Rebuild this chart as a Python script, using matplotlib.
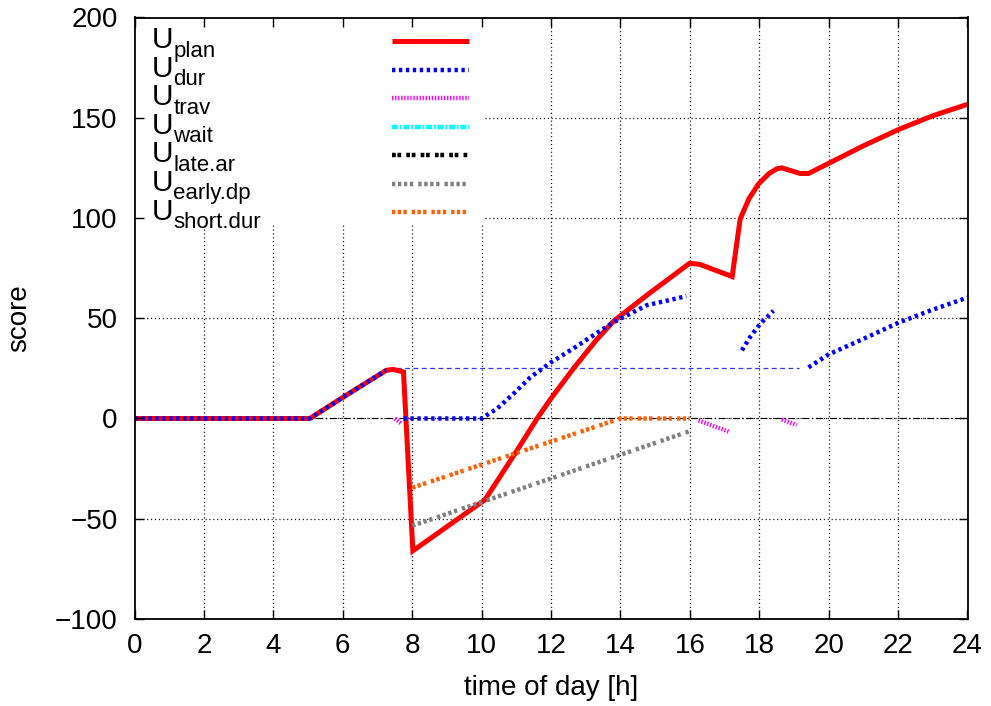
import numpy as np
import matplotlib
matplotlib.use("Agg")
import matplotlib.pyplot as plt
from matplotlib.lines import Line2D
from matplotlib.patches import Rectangle

plt.rcParams['font.family'] = ['Liberation Sans', 'DejaVu Sans']
plt.rcParams['lines.scale_dashes'] = False

# ---------------- data ----------------
plan_t = [0, 5.05, 6.1, 7.25, 7.45, 7.75, 8.02, 10.1, 11.0, 11.6, 12.0, 12.65, 13.3, 13.8,
          14.8, 16.0, 16.3, 17.22, 17.45, 17.7, 17.98, 18.27, 18.5, 18.65, 19.18, 19.42,
          20.04, 21.0, 22.05, 23.0, 24.0]
plan_v = [0, 0, 11.6, 24, 24.5, 23.2, -66, -40.5, -16.5, 0, 10, 25, 39, 48.5,
          62, 77.5, 76.8, 70.8, 99.5, 109.5, 117, 122, 124.5, 125, 122.2, 122.2,
          127.6, 136, 144.4, 151, 156.7]

dur_t = [0, 5.05, 6.1, 7.25, np.nan,
         7.75, 10.0, 10.45, 10.9, 11.4, 12.0, 12.65, 13.0, 13.8, 14.76, 15.9, np.nan,
         17.5, 17.74, 18.03, 18.41, np.nan,
         19.42, 20.0, 21.0, 22.0, 23.0, 24.0]
dur_v = [0, 0, 11.6, 24, np.nan,
         0, 0, 5, 12, 20.5, 28, 35, 39, 48, 56.5, 61, np.nan,
         34, 40.7, 47.3, 53.7, np.nan,
         25.5, 32, 39.7, 47.7, 54.3, 60.3]

dur_ref_t = [7.3, 19.15]
dur_ref_v = [25, 25]

trav_t = [7.5, 7.7, np.nan, 16.25, 17.16, np.nan, 18.65, 19.08]
trav_v = [0, -2.7, np.nan, -1, -6.8, np.nan, -0.5, -3.3]

wait_t, wait_v = [], []
late_t, late_v = [], []

early_t = [8.0, 16.0]
early_v = [-53.5, -6.3]

short_t = [8.0, 14.0, 16.0]
short_v = [-34.5, 0, 0]

labels = ['plan', 'dur', 'trav', 'wait', 'late.ar', 'early.dp', 'short.dur']
xticks = list(range(0, 25, 2))
yticks = list(range(-100, 201, 50))

# ---------------- figure ----------------
W, H = 991, 706
fig = plt.figure(figsize=(W / 100, H / 100), dpi=100)
L, R, T, B = 134.5, 967.5, 17.5, 619
ax = fig.add_axes([L / W, 1 - B / H, (R - L) / W, (B - T) / H])
ax.set_xlim(0, 24)
ax.set_ylim(-100, 200)
ax.set_xticks(xticks)
ax.set_yticks(yticks)
ax.set_yticklabels([('\u2212' + str(-v)) if v < 0 else str(v) for v in yticks])
ax.tick_params(direction='in', length=6.5, width=1, top=True, right=True,
               labelsize=20)
ax.tick_params(axis='x', pad=10)
ax.tick_params(axis='y', pad=12)
for s in ax.spines.values():
    s.set_linewidth(1.3)
ax.set_axisbelow(False)

# grid (drawn manually so the legend box can cover it but not the ticks)
for xv in ax.get_xticks()[1:-1]:
    ax.axvline(xv, color='black', lw=0.9, dashes=(0.8, 2.0), zorder=0.3)
for yv in ax.get_yticks()[1:-1]:
    ax.axhline(yv, color='black', lw=0.9, dashes=(0.8, 2.0), zorder=0.3)

# zero axis
ax.axhline(0, color='black', lw=0.8, dashes=(5, 2, 1, 2), zorder=0.6)

lw = 3.2
lines = []
lines.append(ax.plot(plan_t, plan_v, color='#ff0000', lw=3.6, solid_capstyle='butt',
                     solid_joinstyle='miter', zorder=2)[0])
lines.append(ax.plot(dur_t, dur_v, color='#0000ff', lw=lw, dashes=(2.4, 2.6),
                     dash_capstyle='butt', zorder=2.1)[0])
ax.plot(dur_ref_t, dur_ref_v, color='#3333ff', lw=0.9, dashes=(3.5, 2.5), zorder=1.9)
lines.append(ax.plot(trav_t, trav_v, color='#ff00ff', lw=lw, dashes=(1.0, 1.2),
                     zorder=2.2)[0])
lines.append(ax.plot(wait_t, wait_v, color='#00ffff', lw=lw, dashes=(4.3, 1.3, 1.3, 1.3),
                     zorder=2.3)[0])
lines.append(ax.plot(late_t, late_v, color='#000000', lw=lw, dashes=(2.7, 1.2, 2.7, 3.7),
                     zorder=2.4)[0])
lines.append(ax.plot(early_t, early_v, color='#808080', lw=lw,
                     dashes=(2.4, 1.9, 2.4, 1.9, 2.4, 1.9, 2.4, 3.6), zorder=2.5)[0])
lines.append(ax.plot(short_t, short_v, color='#ff5f00', lw=lw,
                     dashes=(2.4, 1.7, 2.4, 1.7, 2.4, 3.6), zorder=2.6)[0])

# ---------------- legend (gnuplot style) ----------------
def fx(px):
    return px / W

def fy(py):
    return 1 - py / H

ax.add_patch(Rectangle((fx(136), fy(225)), fx(485) - fx(136), fy(18.5) - fy(225),
                       transform=fig.transFigure, facecolor='white', edgecolor='none',
                       zorder=0.8))
row0, dy = 41.0, 28.55
for i, (lab, ln) in enumerate(zip(labels, lines)):
    yl = row0 + i * dy
    fig.text(fx(152), fy(yl + 7.3), 'U', fontsize=21.5, ha='left', va='baseline')
    fig.text(fx(173.5), fy(yl + 15.7), lab, fontsize=16, ha='left', va='baseline')
    seg = Line2D([fx(391.7), fx(469)], [fy(yl), fy(yl)], transform=fig.transFigure,
                 color=ln.get_color(), lw=ln.get_linewidth(),
                 solid_capstyle='butt', dash_capstyle='butt')
    if ln.get_linestyle() not in ('-', 'solid'):
        seg.set_dashes(ln._unscaled_dash_pattern[1])
    fig.add_artist(seg)

fig.text(fx(551), fy(688), 'time of day [h]', fontsize=20, ha='center', va='center')
fig.text(fx(19), fy(318), 'score', fontsize=20, ha='center', va='center', rotation=90)

fig.savefig('out.png', dpi=100)
